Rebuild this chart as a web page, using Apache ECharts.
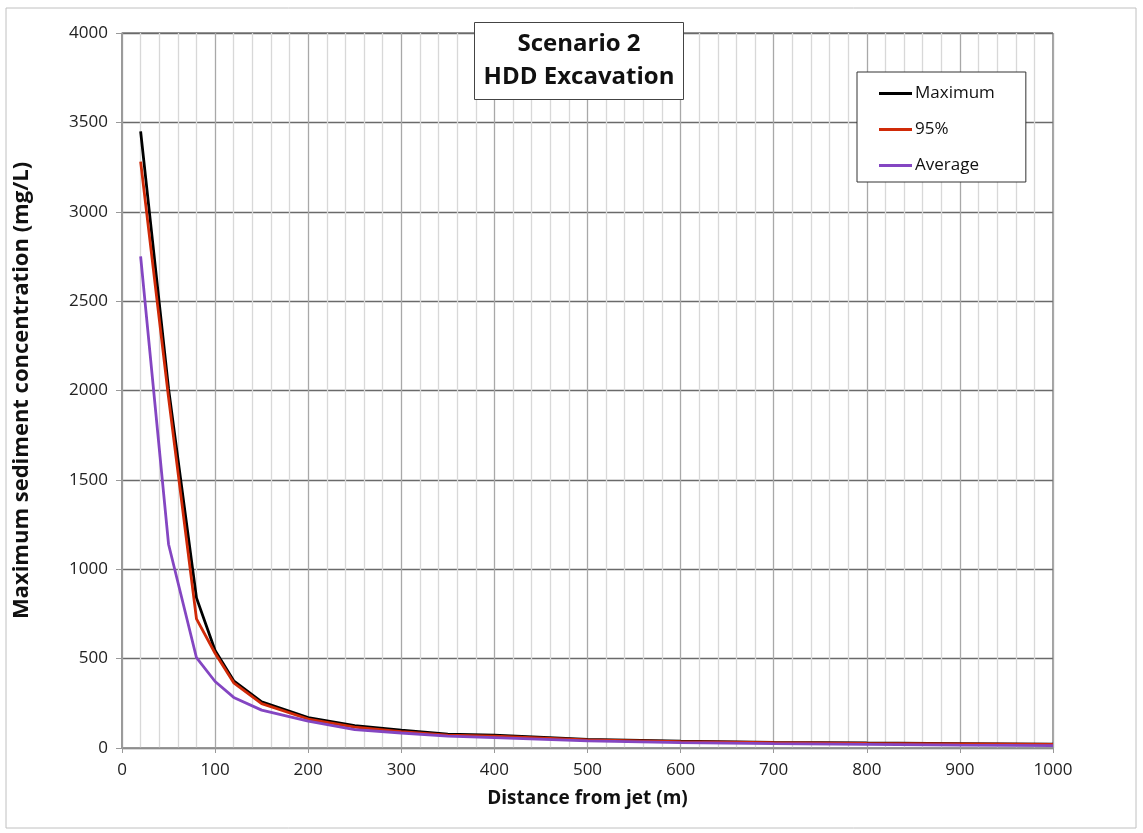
<!DOCTYPE html>
<html>
<head>
<meta charset="utf-8">
<script src="https://cdn.jsdelivr.net/npm/echarts@6/dist/echarts.min.js"></script>
<style>
  html, body { margin: 0; padding: 0; background: #fff; }
  #chart { width: 1143px; height: 833px; }
</style>
</head>
<body>
<div id="chart"></div>
<script>
// distance from jet (m)
var distance = [20, 50, 80, 100, 120, 150, 200, 250, 300, 350, 400, 500, 600, 700, 800, 900, 1000];
// concentrations (mg/L)
var maxValues = [3450, 2010, 840, 545, 376, 258, 170, 125, 100, 78, 72, 48, 38, 32, 28, 25, 22];
var p95Values = [3280, 1960, 722, 530, 365, 248, 162, 117, 92, 72, 66, 45, 35, 30, 26, 23, 20];
var avgValues = [2750, 1140, 505, 372, 283, 212, 150, 103, 84, 66, 58, 40, 30, 24, 20, 16, 13];
var seriesNames = ['Maximum', '95%', 'Average'];

function pairs(ys) {
    var out = [];
    for (var i = 0; i < distance.length; i++) {
        out.push([distance[i], ys[i]]);
    }
    return out;
}

// plain numbers, no thousands separator
function plain(v) {
    return String(v);
}

var chart = echarts.init(document.getElementById('chart'));

var font = '"Open Sans", "DejaVu Sans", sans-serif';

var option = {
    animation: false,
    color: ['#000000', '#d02a08', '#8446c2'],
    textStyle: { fontFamily: font },
    title: {
        text: 'Scenario 2\nHDD Excavation',
        left: 570,
        top: 22,
        textAlign: 'center',
        backgroundColor: '#fff',
        borderColor: '#444',
        borderWidth: 1,
        padding: [6, 9, 6, 9],
        textStyle: {
            fontFamily: font,
            fontSize: 24,
            fontWeight: 'bold',
            color: '#111',
            lineHeight: 33
        }
    },
    legend: {
        data: seriesNames,
        orient: 'vertical',
        left: 857,
        top: 72,
        backgroundColor: '#fff',
        borderColor: '#333',
        borderWidth: 1,
        padding: [13, 31, 8, 22],
        itemGap: 19,
        itemWidth: 33,
        itemHeight: 3,
        icon: 'rect',
        textStyle: { fontFamily: font, fontSize: 17, color: '#111', padding: [0, 0, 0, -2] }
    },
    graphic: [{
        type: 'rect',
        shape: { x: 6, y: 8, width: 1130, height: 820 },
        style: { fill: 'none', stroke: '#c0c0c0', lineWidth: 1 },
        z: -10
    }],
    grid: {
        left: 122,
        right: 90,
        top: 33,
        bottom: 85,
        show: true,
        borderColor: '#444',
        borderWidth: 1
    },
    xAxis: {
        type: 'value',
        min: 0,
        max: 1000,
        interval: 100,
        name: 'Distance from jet (m)',
        nameLocation: 'middle',
        nameGap: 41,
        nameTextStyle: { fontFamily: font, fontSize: 19, fontWeight: 'bold', color: '#111' },
        axisLine: { show: true, lineStyle: { color: '#999', width: 1.5 } },
        axisTick: { show: true, length: 5, lineStyle: { color: '#999' } },
        axisLabel: { fontFamily: font, fontSize: 17, color: '#222', margin: 14, formatter: plain },
        splitLine: { show: true, lineStyle: { color: '#a8a8a8', width: 1.3 } },
        minorTick: { show: false, splitNumber: 5 },
        minorSplitLine: { show: true, lineStyle: { color: '#d8d8d8', width: 1.3 } }
    },
    yAxis: {
        type: 'value',
        min: 0,
        max: 4000,
        interval: 500,
        name: 'Maximum sediment concentration (mg/L)',
        nameLocation: 'middle',
        nameGap: 89,
        nameTextStyle: { fontFamily: font, fontSize: 22, fontWeight: 'bold', color: '#111' },
        axisLine: { show: true, lineStyle: { color: '#999', width: 1.5 } },
        axisTick: { show: true, length: 6, lineStyle: { color: '#999' } },
        axisLabel: { fontFamily: font, fontSize: 17, color: '#222', margin: 14, formatter: plain },
        splitLine: { show: true, lineStyle: { color: '#6a6a6a', width: 1.3 } }
    },
    series: [
        {
            name: seriesNames[0],
            type: 'line',
            showSymbol: false,
            lineStyle: { width: 2.8 },
            data: pairs(maxValues)
        },
        {
            name: seriesNames[1],
            type: 'line',
            showSymbol: false,
            lineStyle: { width: 2.8 },
            data: pairs(p95Values)
        },
        {
            name: seriesNames[2],
            type: 'line',
            showSymbol: false,
            lineStyle: { width: 2.8 },
            data: pairs(avgValues)
        }
    ]
};

chart.setOption(option);
</script>
</body>
</html>
